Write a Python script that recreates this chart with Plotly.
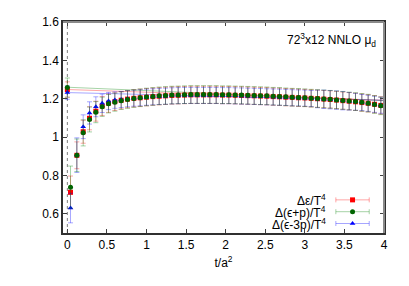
import plotly.graph_objects as go

# ---- data -------------------------------------------------------------
t = [0.0, 0.04, 0.12, 0.20, 0.28, 0.36, 0.44, 0.52, 0.60, 0.68, 0.76,
     0.84, 0.92, 1.00, 1.08, 1.16, 1.24, 1.32, 1.40, 1.48, 1.56,
     1.64, 1.72, 1.80, 1.88, 1.96, 2.04, 2.12, 2.20, 2.28, 2.36,
     2.44, 2.52, 2.60, 2.68, 2.76, 2.84, 2.92, 3.00, 3.08, 3.16,
     3.24, 3.32, 3.40, 3.48, 3.56, 3.64, 3.72, 3.80, 3.88, 3.96]

d_eps = [1.248, 0.712, 0.905, 1.028, 1.098, 1.135, 1.162, 1.177, 1.185, 1.192, 1.198,
         1.202, 1.205, 1.208, 1.211, 1.213, 1.215, 1.217, 1.218, 1.219, 1.220,
         1.220, 1.220, 1.220, 1.220, 1.219, 1.219, 1.218, 1.217, 1.216, 1.215,
         1.214, 1.213, 1.211, 1.210, 1.208, 1.207, 1.205, 1.204, 1.202, 1.200,
         1.198, 1.196, 1.193, 1.190, 1.187, 1.184, 1.180, 1.176, 1.171, 1.165]
d_eps_err = [0.040, 0.085, 0.070, 0.060, 0.060, 0.052, 0.050, 0.048, 0.046, 0.045, 0.045,
             0.045, 0.045, 0.045, 0.045, 0.045, 0.045, 0.045, 0.045, 0.045, 0.045,
             0.045, 0.045, 0.045, 0.045, 0.045, 0.045, 0.045, 0.045, 0.045, 0.045,
             0.045, 0.045, 0.045, 0.045, 0.045, 0.045, 0.045, 0.045, 0.045, 0.045,
             0.045, 0.045, 0.045, 0.045, 0.045, 0.045, 0.045, 0.045, 0.045, 0.045]

d_ep = [1.258, 0.739, 0.905, 1.022, 1.092, 1.130, 1.158, 1.174, 1.182, 1.190, 1.196,
        1.201, 1.205, 1.209, 1.212, 1.215, 1.217, 1.219, 1.220, 1.221, 1.222,
        1.222, 1.222, 1.222, 1.222, 1.221, 1.221, 1.220, 1.219, 1.218, 1.217,
        1.216, 1.215, 1.213, 1.212, 1.210, 1.208, 1.207, 1.205, 1.203, 1.201,
        1.199, 1.197, 1.194, 1.191, 1.188, 1.185, 1.181, 1.177, 1.170, 1.163]
d_ep_err = [0.050, 0.110, 0.085, 0.068, 0.065, 0.055, 0.050, 0.048, 0.047, 0.046, 0.046,
            0.046, 0.046, 0.046, 0.046, 0.046, 0.046, 0.046, 0.046, 0.046, 0.046,
            0.046, 0.046, 0.046, 0.046, 0.046, 0.046, 0.046, 0.046, 0.046, 0.046,
            0.046, 0.046, 0.046, 0.046, 0.046, 0.046, 0.046, 0.046, 0.046, 0.046,
            0.046, 0.046, 0.046, 0.046, 0.046, 0.046, 0.046, 0.046, 0.046, 0.046]

d_e3p = [1.232, 0.630, 0.906, 1.054, 1.126, 1.158, 1.176, 1.188, 1.193, 1.196, 1.200,
         1.203, 1.205, 1.208, 1.210, 1.212, 1.213, 1.215, 1.216, 1.217, 1.217,
         1.217, 1.217, 1.217, 1.217, 1.216, 1.216, 1.215, 1.214, 1.213, 1.212,
         1.211, 1.210, 1.209, 1.208, 1.207, 1.205, 1.204, 1.203, 1.201, 1.199,
         1.197, 1.195, 1.193, 1.190, 1.187, 1.184, 1.180, 1.176, 1.171, 1.166]
d_e3p_err = [0.035, 0.077, 0.090, 0.062, 0.058, 0.052, 0.048, 0.045, 0.043, 0.042, 0.042,
             0.042, 0.042, 0.042, 0.042, 0.042, 0.042, 0.042, 0.042, 0.042, 0.042,
             0.042, 0.042, 0.042, 0.042, 0.042, 0.042, 0.042, 0.042, 0.042, 0.042,
             0.042, 0.042, 0.042, 0.042, 0.042, 0.042, 0.042, 0.042, 0.042, 0.046,
             0.048, 0.048, 0.048, 0.048, 0.046, 0.044, 0.042, 0.042, 0.042, 0.042]

# straight reference lines starting from the t=0 values
fit_t = [0.0, 4.0]
fit_eps = [1.248, 1.192]
fit_ep = [1.260, 1.190]
fit_e3p = [1.232, 1.192]

x_ticks = [0, 0.5, 1, 1.5, 2, 2.5, 3, 3.5, 4]
y_ticks = [0.6, 0.8, 1.0, 1.2, 1.4, 1.6]

labels = ["Δε/T<sup>4</sup>", "Δ(ϵ+p)/T<sup>4</sup>", "Δ(ϵ-3p)/T<sup>4</sup>"]

# ---- style -------------------------------------------------------------
FONT = "Liberation Sans, Arial, Helvetica, sans-serif"
red = (d_eps, d_eps_err, fit_eps, "#ff0000", "rgba(255,0,0,0.35)", "square", 5)
green = (d_ep, d_ep_err, fit_ep, "#006400", "rgba(0,130,0,0.35)", "circle", 5)
blue = (d_e3p, d_e3p_err, fit_e3p, "#0000ff", "rgba(0,0,255,0.35)", "triangle-up", 5)
legend_order = [red, green, blue]
draw_order = [red, blue, green]

fig = go.Figure()

for vals, errs, fit, col, ecol, sym, sz in legend_order:
    fig.add_trace(go.Scatter(x=fit_t, y=fit, mode="lines",
                             line=dict(color=ecol, width=1), showlegend=False,
                             hoverinfo="skip"))

for vals, errs, fit, col, ecol, sym, sz in draw_order:
    fig.add_trace(go.Scatter(
        x=t, y=vals, mode="markers",
        marker=dict(symbol=sym, size=sz, color=col, line=dict(width=0)),
        error_y=dict(type="data", array=errs, color=ecol, thickness=1, width=2.5),
        showlegend=False))

# legend keys on an overlay axis spanning [0,1]
leg_x = 0.902
leg_half = 0.052
leg_y = [0.157, 0.101, 0.045]
for (vals, errs, fit, col, ecol, sym, sz), ly in zip(legend_order, leg_y):
    fig.add_trace(go.Scatter(
        x=[leg_x], y=[ly], mode="markers", xaxis="x2", yaxis="y2",
        marker=dict(symbol=sym, size=sz, color=col, line=dict(width=0)),
        error_x=dict(type="constant", value=leg_half, color=ecol, thickness=1, width=2.5),
        showlegend=False, hoverinfo="skip"))

for lab, ly in zip(labels, leg_y):
    fig.add_annotation(x=0.826, y=ly, xref="paper", yref="paper", text=lab,
                       showarrow=False, xanchor="right", yanchor="middle",
                       font=dict(size=12, color="#000000", family=FONT))

fig.add_annotation(x=0.981, y=0.915, xref="paper", yref="paper",
                   text="72<sup>3</sup>x12 NNLO μ<sub>d</sub>",
                   showarrow=False, xanchor="right", yanchor="middle",
                   font=dict(size=12, color="#000000", family=FONT))

# dotted line at t = 0
fig.add_shape(type="line", xref="x", yref="paper", x0=0, x1=0, y0=0, y1=1,
              line=dict(color="#808080", width=1, dash="dot"), layer="below")
# grey top / right border
fig.add_shape(type="line", xref="paper", yref="paper", x0=0, x1=1, y0=1, y1=1,
              line=dict(color="#8a8a8a", width=2), layer="above")
fig.add_shape(type="line", xref="paper", yref="paper", x0=1, x1=1, y0=0, y1=1,
              line=dict(color="#8a8a8a", width=2), layer="above")

axis_common = dict(showgrid=False, zeroline=False, showline=True, linecolor="#303030",
                   linewidth=1.5, ticks="inside", ticklen=4, tickcolor="#404040",
                   mirror="ticks", tickfont=dict(size=12, color="#000000", family=FONT))

# the page body adds an 8px margin, so the figure is 8px smaller
fig.update_layout(
    width=401, height=278, autosize=False,
    margin=dict(l=55, r=25, t=7, b=53),
    paper_bgcolor="white", plot_bgcolor="white",
    font=dict(family=FONT, size=12, color="#000000"),
    xaxis=dict(range=[-0.055, 4], tickmode="array", tickvals=x_ticks,
               title=dict(text="t/a<sup>2</sup>", standoff=7,
                          font=dict(size=12, family=FONT)),
               **axis_common),
    yaxis=dict(range=[0.5, 1.6], tickmode="array", tickvals=y_ticks,
               ticktext=["0.6", "0.8", "1", "1.2", "1.4", "1.6"], **axis_common),
    xaxis2=dict(overlaying="x", range=[0, 1], visible=False),
    yaxis2=dict(overlaying="y", range=[0, 1], visible=False),
    showlegend=False,
)

fig.write_html("out.html")
